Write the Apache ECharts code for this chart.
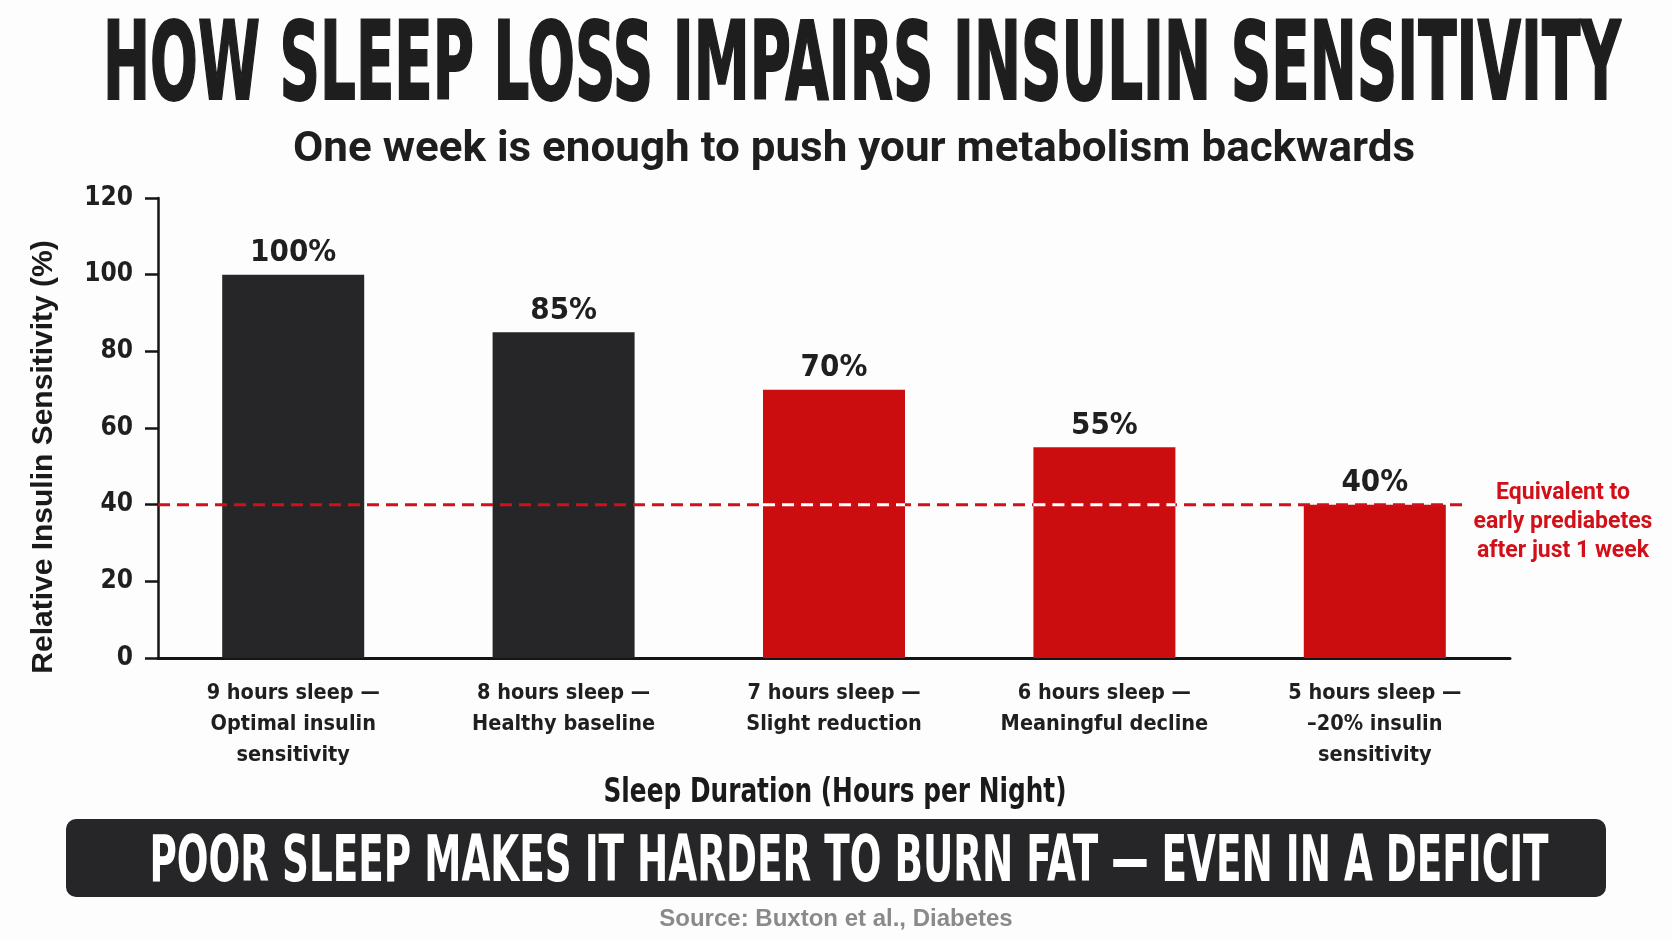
<!DOCTYPE html>
<html>
<head>
<meta charset="utf-8">
<script src="https://cdn.jsdelivr.net/npm/echarts@6/dist/echarts.min.js"></script>
<style>
  html, body { margin: 0; padding: 0; background: #fdfdfd; }
  #chart { width: 1672px; height: 941px; }
</style>
</head>
<body>
<div id="chart"></div>
<script>
// ---- data ----
const categories = [
    '9 hours sleep —\nOptimal insulin\nsensitivity',
    '8 hours sleep —\nHealthy baseline',
    '7 hours sleep —\nSlight reduction',
    '6 hours sleep —\nMeaningful decline',
    '5 hours sleep —\n–20% insulin\nsensitivity'
];
const sensitivity = [100, 85, 70, 55, 40];
const yTicks = [0, 20, 40, 60, 80, 100, 120];
const prediabetesLevel = 40;

const titleText = 'HOW SLEEP LOSS IMPAIRS INSULIN SENSITIVITY';
const subtitleText = 'One week is enough to push your metabolism backwards';
const xNameText = 'Sleep Duration (Hours per Night)';
const bannerText = 'POOR SLEEP MAKES IT HARDER TO BURN FAT — EVEN IN A DEFICIT';
const sourceText = 'Source: Buxton et al., Diabetes';
const noteText = 'Equivalent to\nearly prediabetes\nafter just 1 week';

// ---- style ----
const DARK = '#262628';
const RED = '#cc0d10';
const barColors = [DARK, DARK, RED, RED, RED];
const NARROW = '"Liberation Sans Narrow", "DejaVu Sans Condensed", "Roboto", sans-serif';
const BAR_W = 142;

// stretch headline text to a target width
const mctx = document.createElement('canvas').getContext('2d');
function fitScale(text, font, width) {
    mctx.font = font;
    return width / mctx.measureText(text).width;
}
const titleFont = 'bold 109px ' + NARROW;
const subFont = 'bold 42px Roboto, "Liberation Sans", sans-serif';
const xNameFont = 'bold 33px ' + NARROW;
const bannerFont = 'bold 64px ' + NARROW;

function headline(text, font, x, y, w, color, heavy) {
    const st = { text: text, font: font, fill: color,
                 textAlign: 'center', textVerticalAlign: 'middle',
                 align: 'center', verticalAlign: 'middle' };
    if (heavy) { st.stroke = color; st.lineWidth = heavy; }
    return { type: 'text', x: x, y: y, scaleX: fitScale(text, font, w), style: st };
}

const chart = echarts.init(document.getElementById('chart'));
chart.setOption({
    backgroundColor: '#fdfdfd',
    animation: false,
    grid: { left: 158, right: 162, top: 198, bottom: 283 },
    xAxis: {
        type: 'category', data: categories,
        axisLine: { lineStyle: { color: '#151515', width: 3 } },
        axisTick: { show: false },
        axisLabel: { interval: 0, margin: 20, color: '#1f1f1f', fontFamily: NARROW,
                     fontSize: 21.5, fontWeight: 'bold', lineHeight: 31 }
    },
    yAxis: {
        type: 'value', min: yTicks[0], max: yTicks[yTicks.length - 1], interval: yTicks[1] - yTicks[0],
        axisLine: { show: true, lineStyle: { color: '#151515', width: 2.5 } },
        axisTick: { show: true, length: 13, lineStyle: { color: '#151515', width: 2.5 } },
        splitLine: { show: false },
        axisLabel: { margin: 25, color: '#1f1f1f', fontFamily: NARROW, fontSize: 26, fontWeight: 'bold' },
        name: 'Relative Insulin Sensitivity (%)', nameLocation: 'middle', nameGap: 99, nameRotate: 90,
        nameTextStyle: { color: '#1a1a1a', fontFamily: '"Liberation Sans", Arial, sans-serif',
                         fontSize: 30, fontWeight: 'bold', padding: [0, 58, 0, 0] }
    },
    series: [{
        type: 'bar', barWidth: BAR_W, z: 2,
        data: sensitivity.map((v, i) => ({ value: v, itemStyle: { color: barColors[i] } })),
        label: { show: true, position: 'top', distance: 6, formatter: p => p.value + '%',
                 color: '#1f1f1f', fontFamily: NARROW, fontSize: 31, fontWeight: 'bold' }
    }, {
        // prediabetes threshold line (white where it crosses the red bars)
        type: 'custom', z: 4, silent: true,
        data: sensitivity.map((v, i) => [i, v]),
        encode: { x: 0, y: 1 },
        renderItem: (params, api) => {
            const i = api.value(0);
            const pt = api.coord([i, prediabetesLevel]);
            const cs = params.coordSys;
            const kids = [];
            if (i === 0) {
                const lastX = api.coord([categories.length - 1, prediabetesLevel])[0];
                kids.push({ type: 'line',
                    shape: { x1: cs.x, y1: pt[1], x2: lastX + BAR_W / 2 + 22, y2: pt[1] },
                    style: { stroke: '#d0111a', lineWidth: 3, lineDash: [12, 7] } });
            }
            if (barColors[i] === RED && api.value(1) > prediabetesLevel) {
                kids.push({ type: 'line',
                    shape: { x1: pt[0] - BAR_W / 2, y1: pt[1], x2: pt[0] + BAR_W / 2, y2: pt[1] },
                    style: { stroke: '#ffffff', lineWidth: 3, lineDash: [12, 7] } });
            }
            return { type: 'group', children: kids };
        }
    }],
    graphic: [
        headline(titleText, titleFont, 862, 71, 1518, '#1e1e1f', 2),
        headline(subtitleText, subFont, 854, 150, 1122, '#1e1e1f'),
        headline(xNameText, xNameFont, 835, 793, 463, '#1a1a1a'),
        { type: 'rect', shape: { x: 66, y: 819, width: 1540, height: 78, r: 10 },
          style: { fill: DARK } },
        headline(bannerText, bannerFont, 849, 864, 1399, '#ffffff'),
        { type: 'text', x: 836, y: 919,
          style: { text: sourceText, font: 'bold 24px "Liberation Sans", Arial, sans-serif', fill: '#8a8a8a',
                   textAlign: 'center', textVerticalAlign: 'middle', align: 'center', verticalAlign: 'middle' } },
        { type: 'text', x: 1563, y: 522,
          style: { text: noteText, font: 'bold 23px Roboto, "Liberation Sans", sans-serif', fill: '#d0111a',
                   lineHeight: 29,
                   textAlign: 'center', textVerticalAlign: 'middle', align: 'center', verticalAlign: 'middle' } }
    ]
});
</script>
</body>
</html>
